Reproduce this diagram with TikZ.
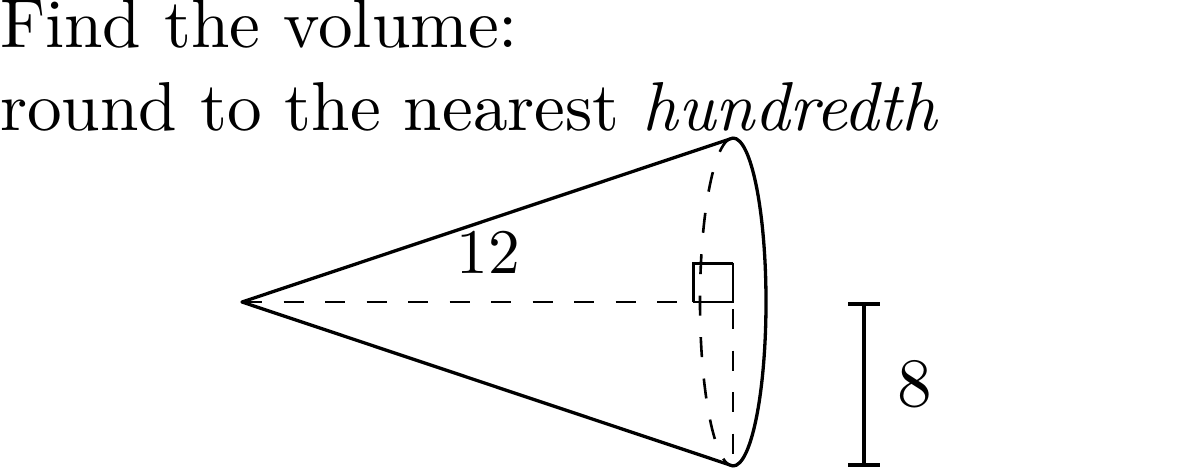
\documentclass[tikz,border=0pt]{standalone}
\tikzset{lbl/.style={inner sep=0pt,outer sep=0pt,anchor=base west,scale=6.92,transform shape},
 numlbl/.style={inner sep=0pt,outer sep=0pt,anchor=base,scale=6.35,transform shape},
 solidline/.style={line width=3.3pt},boxline/.style={line width=3pt},dashline/.style={line width=2.6pt,dash pattern=on 20pt off 21.5pt}}
\begin{document}
\begin{tikzpicture}[x=1pt,y=-1pt]
\useasboundingbox (0,0) rectangle (1194,469);
\node[lbl] (t1) at (0,47) {Find the volume:};
\node[lbl] (t2) at (0,130) {round to the nearest \textit{hundredth}};
\coordinate (apex) at (242,302);
\coordinate (top) at (733,138);
\coordinate (bot) at (733,466);
\coordinate (mid) at (733,302);
\coordinate (a) at (864,304);
\coordinate (b) at (864,465);
\draw[solidline,line join=round] (top) -- (apex) -- (bot);
\draw[solidline] (top) .. controls (751.2,138) and (766,211.4) .. (766,302) .. controls (766,392.6) and (751.2,466) .. (bot);
\draw[dashline] (top) .. controls (714.8,138) and (700,211.4) .. (700,302) .. controls (700,392.6) and (714.8,466) .. (bot);
\draw[dashline] (apex) -- (mid) -- (bot);
\draw[boxline] (693,302) -- (693,263.5) -- (733,263.5);
\draw[line width=2.5pt] (733,262.5) -- (mid) -- (693,302);
\node[numlbl] (n12) at (488,273.5) {12};
\node[lbl] (n8) at (897,406.5) {8};
\draw[solidline] (a) -- (b);
\draw[solidline] (848,304) -- (880,304);
\draw[solidline] (848,465) -- (880,465);
\end{tikzpicture}
\end{document}
